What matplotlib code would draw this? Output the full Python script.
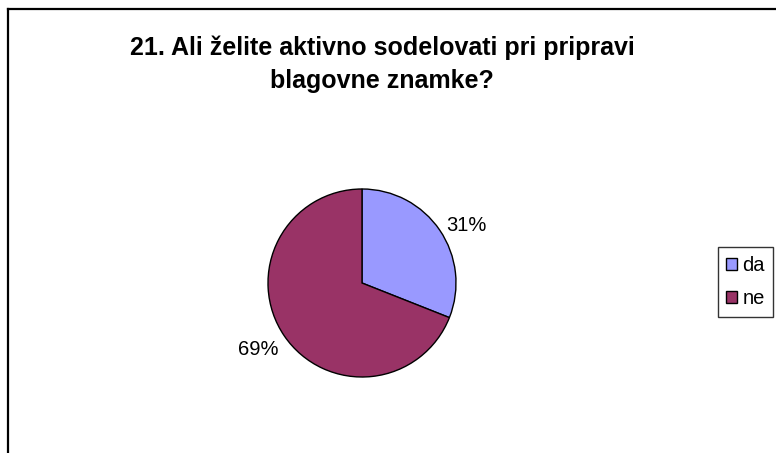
import matplotlib.pyplot as plt
from matplotlib.lines import Line2D

# podatki
categories = ["da", "ne"]
values = [31, 69]
colors = ["#9999FF", "#993366"]
title = "21. Ali želite aktivno sodelovati pri pripravi\nblagovne znamke?"

plt.rcParams['font.family'] = ['Liberation Sans', 'DejaVu Sans']

W, H = 776, 453
fig = plt.figure(figsize=(W / 100, H / 100), dpi=100)

# okvir grafikona (desni in spodnji rob sta odrezana)
x0 = 8 / W
y0 = 1 - 9 / H
fig.add_artist(Line2D([x0, x0], [0, y0], transform=fig.transFigure, color="black", lw=1.6))
fig.add_artist(Line2D([x0, 1], [y0, y0], transform=fig.transFigure, color="black", lw=1.6))

# naslov
fig.text(382 / W, 1 - 64 / H, title, ha="center", va="center",
         fontsize=18, fontweight="bold", linespacing=1.45)

# tortni diagram
cx, cy, r = 362, 283, 94
ax = fig.add_axes([(cx - r) / W, (H - cy - r) / H, 2 * r / W, 2 * r / H])
wedges, texts = ax.pie(values, colors=colors, startangle=90, counterclock=False,
                       labels=[f"{v}%" for v in values], labeldistance=1.08,
                       wedgeprops=dict(edgecolor="black", linewidth=1.0),
                       textprops=dict(fontsize=14.5))
texts[1].set_va("top")
ax.set_xlim(-1, 1)
ax.set_ylim(-1, 1)
ax.set_aspect("equal")
ax.axis("off")

# legenda
leg = fig.legend(wedges, categories, loc="center", bbox_to_anchor=(745.5 / W, 1 - 282 / H),
                 fontsize=14.5, frameon=True, fancybox=False, edgecolor="black",
                 handlelength=0.55, handleheight=0.55, handletextpad=0.25,
                 borderpad=0.42, labelspacing=0.7, borderaxespad=0)
leg.get_frame().set_linewidth(1.0)

fig.savefig("out.png", dpi=100)
